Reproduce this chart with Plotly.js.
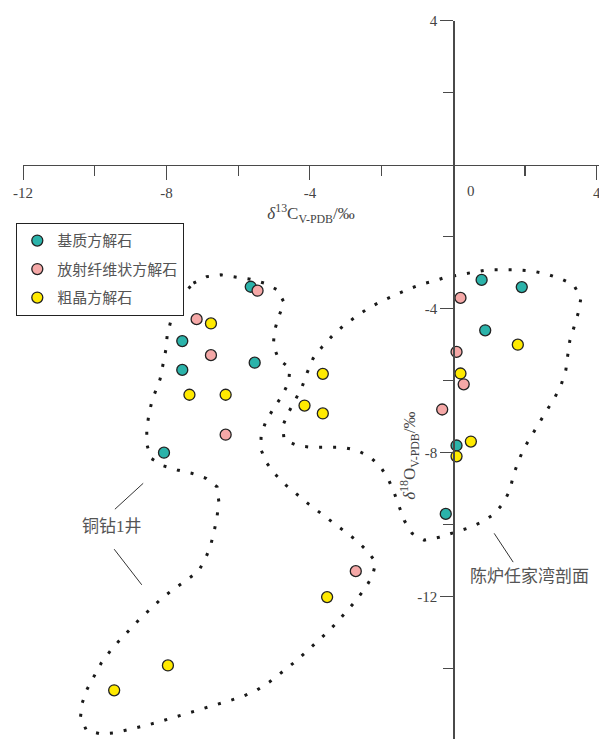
<!DOCTYPE html>
<html><head><meta charset="utf-8">
<script src="https://cdn.plot.ly/plotly-3.0.1.min.js"></script>
<style>html,body{margin:0;padding:0;background:#fff}#chart{width:599px;height:739px}</style>
</head><body><div id="chart"></div>
<script>
// ---- data (δ13C, δ18O, ‰ V-PDB) ----
const seriesNames = ['基质方解石', '放射纤维状方解石', '粗晶方解石'];
const matrixX = [-5.65, -7.56, -5.54, -7.56, -8.07, 0.79, 1.91, 0.89, 0.09, -0.21];
const matrixY = [-3.39, -4.90, -5.50, -5.70, -8.00, -3.20, -3.40, -4.60, -7.80, -9.70];
const radialX = [-5.46, -7.16, -6.76, -6.35, 0.20, 0.09, 0.29, -0.31, -2.72];
const radialY = [-3.50, -4.29, -5.29, -7.50, -3.70, -5.20, -6.10, -6.80, -11.29];
const coarseX = [-6.76, -7.36, -6.35, -7.96, -9.46, -3.64, -4.15, -3.64, 1.80, 0.20, 0.49, 0.09, -3.52];
const coarseY = [-4.41, -6.39, -6.39, -13.91, -14.60, -5.81, -6.69, -6.91, -5.00, -5.80, -7.69, -8.10, -12.01];

// ---- region outlines ----
const wellOutlineX = [-7.25,-6.88,-6.48,-6.07,-5.66,-5.27,-4.90,-4.72,-4.87,-4.99,-5.02,-4.87,-4.56,-4.59,-4.78,-5.01,-5.22,-5.36,-5.37,-5.21,-4.97,-4.67,-4.35,-4.03,-3.70,-3.38,-3.05,-2.71,-2.42,-2.16,-2.26,-2.47,-2.72,-2.99,-3.27,-3.56,-3.86,-4.16,-4.48,-4.81,-5.13,-5.47,-5.85,-6.25,-6.64,-7.03,-7.43,-7.83,-8.22,-8.63,-9.02,-9.43,-9.84,-10.23,-10.40,-10.35,-10.21,-10.02,-9.82,-9.57,-9.30,-9.02,-8.73,-8.42,-8.13,-7.80,-7.46,-7.12,-6.92,-6.77,-6.67,-6.59,-6.54,-6.59,-6.90,-7.30,-7.70,-8.10,-8.44,-8.55,-8.55,-8.49,-8.40,-8.29,-8.18,-8.10,-8.02,-7.98,-7.88,-7.74,-7.53,-7.25];
const wellOutlineY = [-3.29,-3.11,-3.06,-3.11,-3.18,-3.29,-3.48,-3.83,-4.22,-4.62,-5.02,-5.41,-5.65,-6.04,-6.42,-6.77,-7.11,-7.50,-7.90,-8.28,-8.60,-8.90,-9.17,-9.43,-9.68,-9.93,-10.18,-10.43,-10.71,-11.04,-11.44,-11.78,-12.11,-12.43,-12.74,-13.03,-13.31,-13.58,-13.86,-14.12,-14.37,-14.59,-14.76,-14.89,-15.01,-15.12,-15.24,-15.36,-15.48,-15.59,-15.68,-15.78,-15.81,-15.72,-15.35,-14.95,-14.56,-14.20,-13.84,-13.51,-13.20,-12.91,-12.60,-12.32,-12.04,-11.79,-11.54,-11.31,-10.96,-10.58,-10.18,-9.78,-9.36,-8.95,-8.71,-8.57,-8.48,-8.36,-8.15,-7.76,-7.34,-6.93,-6.54,-6.26,-5.96,-5.56,-5.15,-4.74,-4.34,-3.96,-3.60,-3.29];
const sectionOutlineX = [-4.21,-4.07,-3.91,-3.66,-3.38,-3.07,-2.73,-2.39,-2.04,-1.65,-1.28,-0.89,-0.49,-0.26,0.13,0.54,0.94,1.37,1.79,2.19,2.61,3.00,3.36,3.56,3.49,3.37,3.25,3.19,3.14,3.01,2.83,2.61,2.40,2.18,1.97,1.81,1.67,1.58,1.39,1.12,0.77,0.39,-0.01,-0.40,-0.81,-1.15,-1.37,-1.51,-1.65,-1.81,-2.03,-2.33,-2.69,-3.10,-3.51,-3.94,-4.34,-4.72,-4.76,-4.59,-4.40,-4.21];
const sectionOutlineY = [-6.15,-5.76,-5.38,-5.06,-4.76,-4.48,-4.23,-4.00,-3.81,-3.63,-3.47,-3.32,-3.22,-3.14,-3.06,-2.99,-2.92,-2.91,-2.92,-2.95,-3.04,-3.17,-3.34,-3.70,-4.10,-4.50,-4.89,-5.31,-5.70,-6.11,-6.47,-6.82,-7.17,-7.52,-7.88,-8.25,-8.65,-9.04,-9.41,-9.72,-9.94,-10.10,-10.22,-10.35,-10.43,-10.24,-9.88,-9.50,-9.11,-8.74,-8.39,-8.11,-7.93,-7.85,-7.85,-7.85,-7.81,-7.64,-7.26,-6.87,-6.52,-6.15];

// ---- ticks ----
const xTickVals = [-12, -8, -4, 0, 4];
const xTickText = ['-12', '-8', '-4', '', '4'];
const xMinorVals = [-10, -6, -2, 2];
const yTickVals = [4, -4, -8, -12];
const yTickText = ['4', '-4', '-8', '-12'];
const yMinorVals = [2, -2, -6, -10, -14];

// ---- region labels & leader lines ----
const regionLabels = ['铜钻1井', '陈炉任家湾剖面'];
const regionLabelX = [-9.52, 2.13];
const regionLabelY = [-10.04, -11.44];
const leaderLines = [
  [-8.65, -8.85, -9.44, -9.57],
  [-9.46, -10.68, -8.69, -11.67],
  [1.14, -10.24, 1.67, -11.04]
];

const AX = '#4a4a4a';
const SERIF = '"Liberation Serif", "Times New Roman", serif';
const CJK = '"Liberation Serif", "Noto Sans CJK SC", serif';

const outlineLine = {color: '#1a1a1a', width: 3, dash: '3px,11px'};
const markerLine = {color: '#222', width: 1.3};

const traces = [
  {x: wellOutlineX, y: wellOutlineY, mode: 'lines', line: outlineLine, showlegend: false, hoverinfo: 'skip'},
  {x: sectionOutlineX, y: sectionOutlineY, mode: 'lines', line: outlineLine, showlegend: false, hoverinfo: 'skip'},
  {x: matrixX, y: matrixY, name: seriesNames[0], mode: 'markers', legendgroup: 'a',
   marker: {size: 11, color: '#2bb3aa', line: markerLine}},
  {x: radialX, y: radialY, name: seriesNames[1], mode: 'markers', legendgroup: 'b',
   marker: {size: 11, color: '#f5a8a7', line: markerLine}},
  {x: coarseX, y: coarseY, name: seriesNames[2], mode: 'markers', legendgroup: 'c',
   marker: {size: 11, color: '#ffea00', line: markerLine}}
];

const W = 599, H = 739;
const xPxPerUnit = 35.85, yPxPerUnit = 36.0;
const xLeftPx = 23.1, yTopPx = 20.7;
const xMax = -12 + (W - xLeftPx) / xPxPerUnit;
const yMin = 4 - (H - yTopPx) / yPxPerUnit;
const xZeroFrac = (0 - (-12)) / (xMax + 12) * (1 - xLeftPx / W) + xLeftPx / W;
const yZeroFrac = (0 - yMin) / (4 - yMin) * (1 - yTopPx / H);

const shapes = leaderLines.map(l => ({type: 'line', xref: 'x', yref: 'y', x0: l[0], y0: l[1], x1: l[2], y1: l[3],
  line: {color: '#333', width: 1}}));

const annotations = [
  {xref: 'x', yref: 'y', x: 0.485, y: -0.72, text: '0', showarrow: false,
   font: {family: SERIF, size: 15, color: '#444'}},
  {xref: 'x', yref: 'y', x: -1.22, y: -8.1, text: '<i>δ</i><sup>18</sup>O<sub>V-PDB</sub>/‰', textangle: -90,
   showarrow: false, font: {family: SERIF, size: 17, color: '#444'}}
];
regionLabels.forEach((t, i) => annotations.push({xref: 'x', yref: 'y', x: regionLabelX[i], y: regionLabelY[i],
  text: t, showarrow: false, font: {family: CJK, size: 17, color: '#555'}}));

const layout = {
  width: W, height: H,
  margin: {l: 0, r: 0, t: 0, b: 0, pad: 0},
  paper_bgcolor: '#fff', plot_bgcolor: '#fff',
  showlegend: true,
  legend: {x: 16 / W, y: 1 - 223 / H, xanchor: 'left', yanchor: 'top',
    bgcolor: '#fff', bordercolor: '#222', borderwidth: 1.3,
    font: {family: '"Noto Sans CJK SC", sans-serif', size: 15, color: '#555'},
    traceorder: 'grouped', tracegroupgap: 6},
  xaxis: {
    domain: [xLeftPx / W, 1], range: [-12, xMax], anchor: 'free', position: yZeroFrac,
    showgrid: false, zeroline: false, showline: true, linecolor: AX, linewidth: 1.5,
    tickmode: 'array', tickvals: xTickVals, ticktext: xTickText, ticklabeloverflow: 'allow',
    ticks: 'outside', ticklen: 14, tickwidth: 1.2, tickcolor: AX,
    minor: {tickmode: 'array', tickvals: xMinorVals, ticks: 'outside', ticklen: 10, tickwidth: 1.2, tickcolor: AX, showgrid: false},
    tickfont: {family: SERIF, size: 15, color: '#444'},
    title: {text: '<i>δ</i><sup>13</sup>C<sub>V-PDB</sub>/‰', font: {family: SERIF, size: 17, color: '#444'}, standoff: 4}
  },
  yaxis: {
    domain: [0, 1 - yTopPx / H], range: [yMin, 4], anchor: 'free', position: xZeroFrac,
    showgrid: false, zeroline: false, showline: true, linecolor: AX, linewidth: 1.5,
    tickmode: 'array', tickvals: yTickVals, ticktext: yTickText,
    ticks: 'outside', ticklen: 13, tickwidth: 1.2, tickcolor: AX,
    minor: {tickmode: 'array', tickvals: yMinorVals, ticks: 'outside', ticklen: 10, tickwidth: 1.2, tickcolor: AX, showgrid: false},
    tickfont: {family: SERIF, size: 15, color: '#444'}
  },
  shapes: shapes,
  annotations: annotations
};

Plotly.newPlot('chart', traces, layout, {displayModeBar: false, staticPlot: true});
</script></body></html>
